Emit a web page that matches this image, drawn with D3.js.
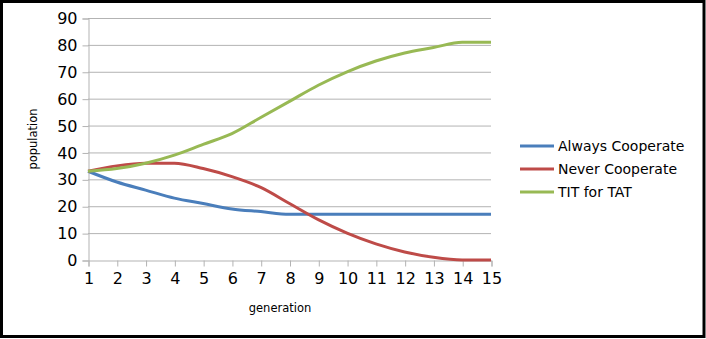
<!DOCTYPE html>
<html>
<head>
<meta charset="utf-8">
<script src="https://cdn.jsdelivr.net/npm/d3@7/dist/d3.min.js"></script>
<style>
  html, body { margin: 0; padding: 0; background: #fff; }
  svg { display: block; }
</style>
</head>
<body>
<svg id="chart" width="706" height="339"></svg>
<script>
// Population of each strategy per generation
const generations = [1, 2, 3, 4, 5, 6, 7, 8, 9, 10, 11, 12, 13, 14, 15];
const alwaysCooperate = [33, 29, 26, 23, 21, 19, 18, 17, 17, 17, 17, 17, 17, 17, 17];
const neverCooperate  = [33, 35, 36, 36, 34, 31, 27, 21, 15, 10, 6, 3, 1, 0, 0];
const titForTat       = [33, 34, 36, 39, 43, 47, 53, 59, 65, 70, 74, 77, 79, 81, 81];
const seriesNames = ["Always Cooperate", "Never Cooperate", "TIT for TAT"];
const seriesColors = ["#4a7ebb", "#be4b48", "#98b954"];
const yTicks = [0, 10, 20, 30, 40, 50, 60, 70, 80, 90];

const series = [alwaysCooperate, neverCooperate, titForTat].map((vals, i) => ({
  name: seriesNames[i],
  color: seriesColors[i],
  values: vals.map((v, j) => ({ g: generations[j], v }))
}));

const svg = d3.select("#chart");
const W = 706, H = 339;
const font = "'DejaVu Sans', sans-serif";

// Outer frame
svg.append("rect").attr("x", 1.5).attr("y", 1.5).attr("width", W - 3.5).attr("height", H - 4)
  .attr("fill", "#fff").attr("stroke", "#000").attr("stroke-width", 3);

const plot = { left: 88, right: 491, top: 18, bottom: 260 };
const x = d3.scaleLinear().domain([1, 15]).range([plot.left, plot.right]);
const y = d3.scaleLinear().domain([0, 90]).range([plot.bottom, plot.top]);

// Horizontal gridlines
svg.append("g").selectAll("line").data(yTicks.filter(t => t > 0)).join("line")
  .attr("x1", plot.left).attr("x2", plot.right)
  .attr("y1", d => y(d) + 0.5).attr("y2", d => y(d) + 0.5)
  .attr("stroke", "#b3b3b3").attr("stroke-width", 1);

// Y axis
const yAxis = svg.append("g").attr("transform", `translate(${plot.left + 0.5},0.5)`)
  .call(d3.axisLeft(y).tickValues(yTicks).tickSize(6).tickPadding(5));
yAxis.select(".domain").attr("stroke", "#b3b3b3");
yAxis.selectAll(".tick line").attr("stroke", "#b3b3b3");
yAxis.selectAll("text").attr("font-family", font).attr("font-size", 16).attr("fill", "#000");

// X axis
const xAxis = svg.append("g").attr("transform", `translate(0.5,${plot.bottom + 0.5})`)
  .call(d3.axisBottom(x).tickValues(generations).tickFormat(d3.format("d")).tickSize(6).tickPadding(6));
xAxis.select(".domain").attr("stroke", "#b3b3b3");
xAxis.selectAll(".tick line").attr("stroke", "#b3b3b3");
xAxis.selectAll("text").attr("font-family", font).attr("font-size", 16).attr("fill", "#000");

// Axis titles
svg.append("text").attr("transform", `translate(37,${(plot.top + plot.bottom) / 2}) rotate(-90)`)
  .attr("text-anchor", "middle").attr("font-family", font).attr("font-size", 11.5)
  .text("population");
svg.append("text").attr("x", 280).attr("y", 312)
  .attr("text-anchor", "middle").attr("font-family", font).attr("font-size", 11.5)
  .text("generation");

// Series lines
const line = d3.line().x(d => x(d.g)).y(d => y(d.v)).curve(d3.curveMonotoneX);
svg.append("g").selectAll("path").data(series).join("path")
  .attr("d", d => line(d.values))
  .attr("fill", "none").attr("stroke", d => d.color)
  .attr("stroke-width", 3).attr("stroke-linejoin", "round");

// Legend
const legend = svg.append("g").selectAll("g").data(series).join("g")
  .attr("transform", (d, i) => `translate(520,${146 + i * 23})`);
legend.append("line").attr("x1", 0).attr("x2", 34).attr("y1", 0).attr("y2", 0)
  .attr("stroke", d => d.color).attr("stroke-width", 3);
legend.append("text").attr("x", 38).attr("y", 5)
  .attr("font-family", font).attr("font-size", 14).text(d => d.name);
</script>
</body>
</html>
